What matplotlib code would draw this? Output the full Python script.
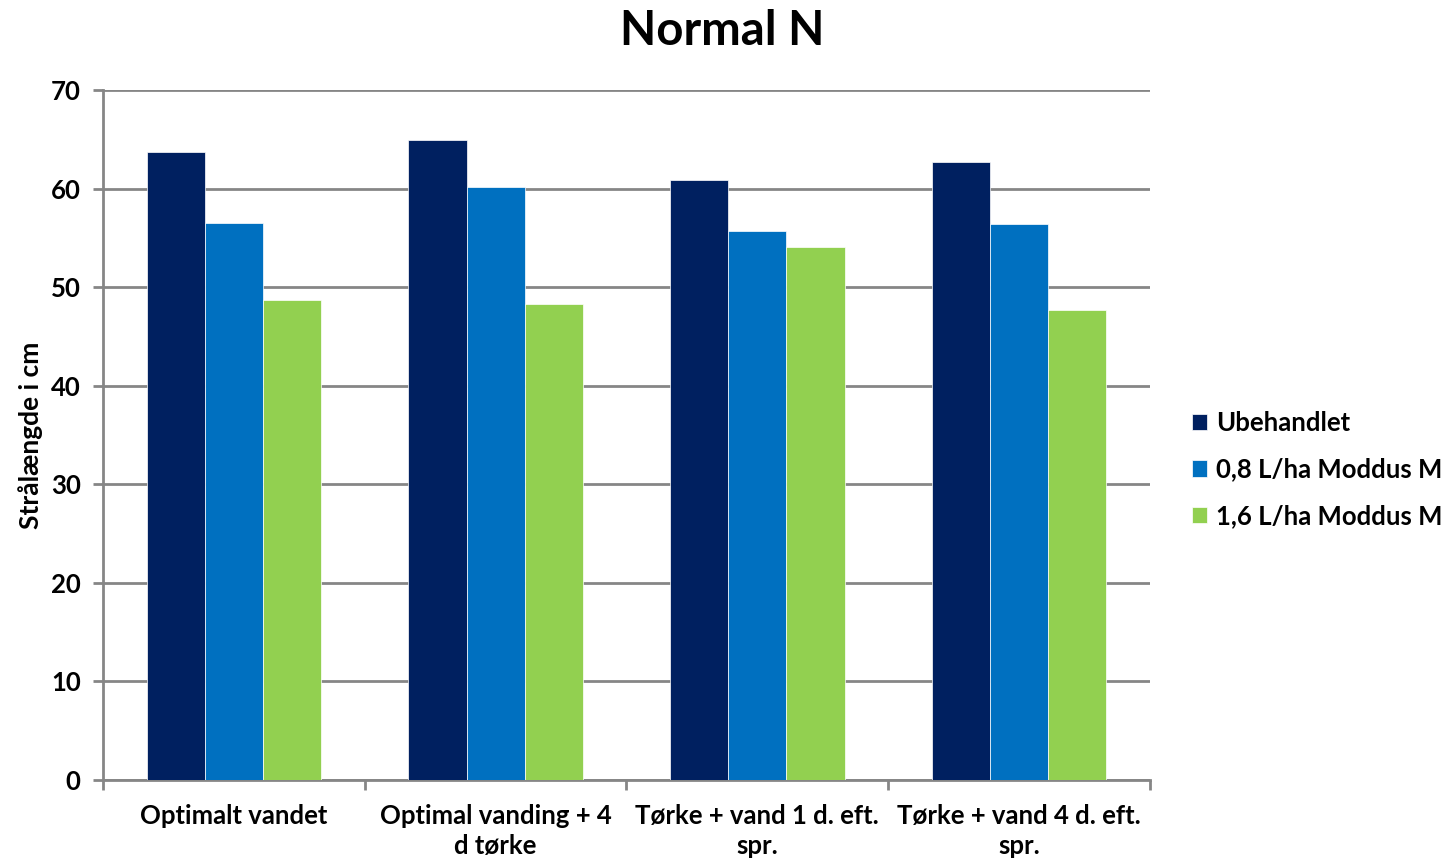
import numpy as np
import matplotlib
matplotlib.use("Agg")
import matplotlib.pyplot as plt

categories = ["Optimalt vandet", "Optimal vanding + 4\nd tørke",
              "Tørke + vand 1 d. eft.\nspr.", "Tørke + vand 4 d. eft.\nspr."]
series_names = ["Ubehandlet", "0,8 L/ha Moddus M", "1,6 L/ha Moddus M"]
ubehandlet = [63.7, 64.9, 60.9, 62.7]
moddus_08 = [56.5, 60.2, 55.7, 56.4]
moddus_16 = [48.7, 48.3, 54.1, 47.7]
colors = ["#002060", "#0070C0", "#92D050"]

plt.rcParams['font.family'] = ['Lato', 'DejaVu Sans']
plt.rcParams['font.weight'] = 'bold'

fig = plt.figure(figsize=(14.44, 8.61), dpi=100)
ax = fig.add_axes([0.0713, 0.0941, 0.7251, 0.8014])

x = np.arange(len(categories))
w = 0.222
for i, (vals, name) in enumerate(zip([ubehandlet, moddus_08, moddus_16], series_names)):
    ax.bar(x + (i - 1) * w, vals, w, color=colors[i], label=name,
           edgecolor="white", linewidth=0.5, zorder=3)

ax.set_xlim(-0.5, len(categories) - 0.5)
ax.set_ylim(0, 70)
ax.set_yticks(range(0, 71, 10))
ax.yaxis.grid(True, color="#868686", linewidth=2, zorder=0)
ax.set_axisbelow(True)

ax.set_xticks(x)
ax.set_xticklabels(categories, fontsize=18.5, fontweight='bold', linespacing=1.3)
ax.set_xticks(np.arange(-0.5, len(categories), 1), minor=True)
ax.tick_params(axis='x', which='major', length=0, pad=17)
ax.tick_params(axis='x', which='minor', length=7, width=2, color="#868686")
ax.tick_params(axis='y', length=7, width=2, color="#868686", labelsize=18.5, pad=9)
for lab in ax.get_yticklabels():
    lab.set_fontweight('bold')

for s in ["top", "right"]:
    ax.spines[s].set_visible(False)
for s in ["left", "bottom"]:
    ax.spines[s].set_color("#868686")
    ax.spines[s].set_linewidth(2)

ax.set_ylabel("Strålængde i cm", fontsize=19, fontweight='bold', labelpad=6)
fig.suptitle("Normal N", fontsize=34, fontweight='bold', y=0.99)

ax.legend(loc="center left", bbox_to_anchor=(1.03, 0.45), frameon=False,
          prop={'size': 18.5, 'weight': 'bold'}, handlelength=0.6, handleheight=0.6,
          handletextpad=0.35, labelspacing=0.88, borderaxespad=0)

fig.savefig("out.png", dpi=100)
